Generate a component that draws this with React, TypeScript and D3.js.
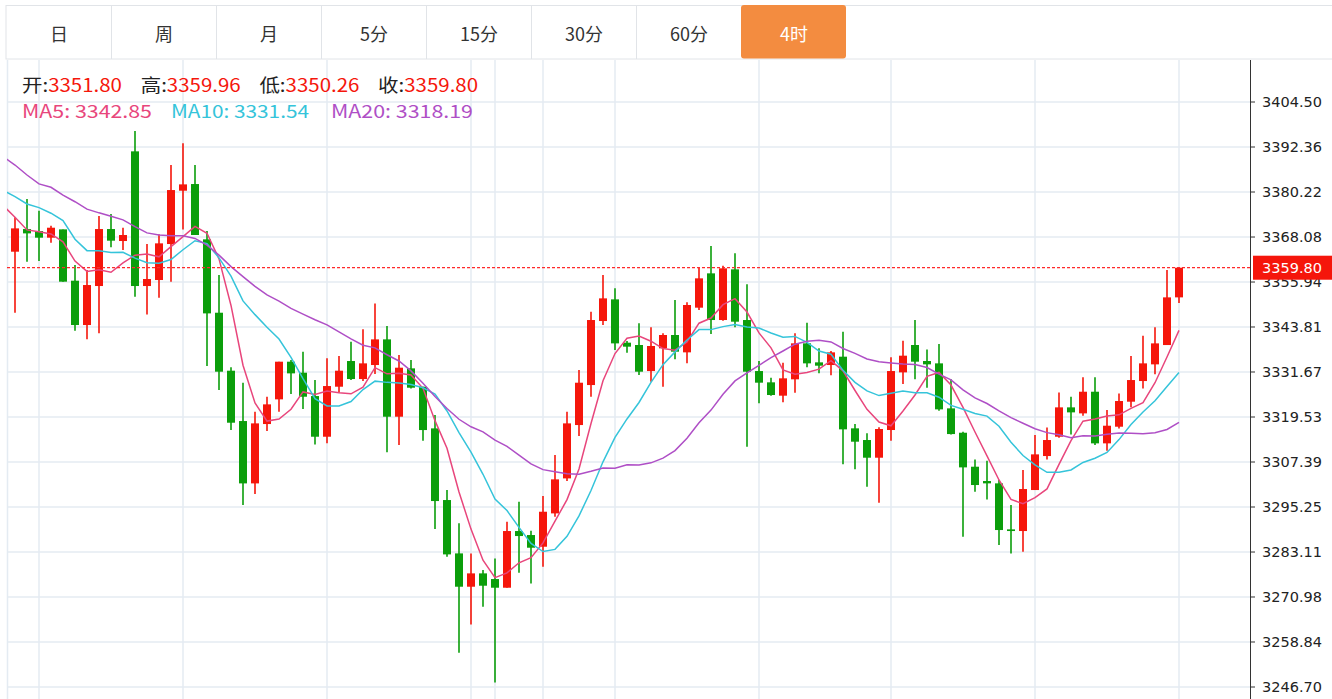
import React from 'react';
import * as d3 from 'd3';

const tabs = ['日', '周', '月', '5分', '15分', '30分', '60分', '4时'];
const activeTab = '4时';

const opens = [
  3364.12, 3370.23, 3369.69, 3367.90, 3370.14, 3356.30, 3344.34, 3354.86, 3370.23, 3367.00,
  3391.19, 3354.86, 3356.48, 3366.19, 3380.57, 3382.37, 3367.45, 3347.66, 3332.02, 3318.44,
  3301.62, 3317.63, 3324.29, 3334.45, 3331.48, 3325.18, 3314.21, 3327.70, 3334.63, 3329.77,
  3333.55, 3340.47, 3319.61, 3332.65, 3327.70, 3316.46, 3297.13, 3282.74, 3273.75, 3277.35,
  3275.82, 3273.48, 3288.77, 3287.69, 3284.54, 3293.53, 3302.97, 3317.36, 3328.15, 3345.42,
  3351.26, 3339.58, 3338.95, 3331.93, 3338.05, 3341.65, 3336.97, 3349.02, 3358.28, 3345.69,
  3359.36, 3345.69, 3331.93, 3328.88, 3325.28, 3329.69, 3339.40, 3334.27, 3333.55, 3335.80,
  3316.47, 3313.32, 3308.55, 3316.02, 3331.57, 3338.95, 3334.63, 3334.00, 3321.86, 3315.29,
  3306.12, 3302.26, 3301.63, 3289.22, 3288.77, 3299.83, 3309.00, 3314.21, 3322.13, 3320.51,
  3326.35, 3312.42, 3316.91, 3323.66, 3329.23, 3333.73, 3338.94, 3351.80,
];
const closes = [
  3370.41, 3369.06, 3367.90, 3370.59, 3356.03, 3344.34, 3355.13, 3370.23, 3367.09, 3368.62,
  3354.86, 3356.75, 3366.37, 3380.75, 3382.28, 3368.62, 3347.48, 3331.75, 3317.99, 3301.62,
  3317.81, 3322.94, 3334.45, 3331.30, 3325.00, 3314.21, 3327.88, 3332.02, 3329.77, 3334.00,
  3340.47, 3319.61, 3332.83, 3327.43, 3316.01, 3296.86, 3282.47, 3273.75, 3277.35, 3274.02,
  3273.48, 3288.77, 3287.42, 3284.27, 3293.98, 3302.71, 3317.81, 3328.78, 3345.69, 3351.53,
  3339.39, 3338.50, 3331.75, 3338.68, 3341.65, 3337.15, 3349.74, 3356.93, 3345.69, 3359.63,
  3345.24, 3331.75, 3328.79, 3325.46, 3329.96, 3339.40, 3334.00, 3333.37, 3336.97, 3316.20,
  3312.87, 3308.55, 3316.29, 3331.93, 3336.07, 3334.45, 3333.73, 3321.59, 3314.93, 3305.94,
  3301.18, 3301.63, 3289.04, 3288.77, 3300.10, 3309.45, 3313.32, 3322.13, 3320.78, 3326.35,
  3312.42, 3317.18, 3323.84, 3329.50, 3334.00, 3339.39, 3351.80, 3359.80,
];
const highs = [
  3373.38, 3378.33, 3375.18, 3371.13, 3370.14, 3360.52, 3359.17, 3373.74, 3374.28, 3370.59,
  3396.67, 3366.19, 3368.80, 3387.50, 3393.34, 3387.50, 3369.69, 3357.82, 3332.92, 3328.78,
  3320.96, 3325.00, 3334.45, 3334.90, 3337.14, 3329.50, 3335.35, 3335.98, 3339.84, 3343.17,
  3350.18, 3344.07, 3336.25, 3334.90, 3327.70, 3320.06, 3299.83, 3290.84, 3282.74, 3278.25,
  3281.39, 3291.29, 3296.68, 3288.86, 3298.21, 3309.27, 3320.96, 3332.20, 3347.93, 3357.83,
  3354.23, 3340.03, 3344.79, 3343.71, 3342.09, 3351.09, 3350.46, 3359.90, 3365.65, 3360.35,
  3363.68, 3355.31, 3334.63, 3330.14, 3334.18, 3342.09, 3344.97, 3338.05, 3337.33, 3342.54,
  3317.64, 3315.12, 3316.74, 3335.62, 3340.12, 3345.69, 3337.77, 3339.21, 3329.68, 3315.56,
  3308.10, 3307.74, 3302.53, 3295.78, 3305.22, 3314.66, 3316.73, 3326.17, 3325.01, 3330.22,
  3330.22, 3321.41, 3325.90, 3335.98, 3341.46, 3343.71, 3359.17, 3359.96,
];
const lows = [
  3347.66, 3361.42, 3361.60, 3366.55, 3356.03, 3342.81, 3340.47, 3342.09, 3365.29, 3364.57,
  3351.98, 3347.21, 3351.71, 3356.03, 3370.14, 3368.62, 3333.28, 3326.80, 3316.01, 3295.78,
  3298.75, 3315.74, 3320.96, 3325.72, 3321.68, 3312.14, 3312.42, 3326.08, 3329.50, 3329.23,
  3331.12, 3309.99, 3311.97, 3327.25, 3313.14, 3289.31, 3281.84, 3255.95, 3263.59, 3268.36,
  3247.94, 3273.48, 3277.53, 3274.65, 3279.15, 3292.63, 3302.26, 3314.39, 3325.01, 3344.34,
  3337.59, 3336.88, 3330.85, 3329.06, 3327.71, 3335.08, 3334.00, 3348.39, 3341.91, 3345.51,
  3343.71, 3311.52, 3323.21, 3325.28, 3323.48, 3326.09, 3332.92, 3331.30, 3330.76, 3306.76,
  3305.41, 3300.73, 3296.42, 3313.14, 3328.43, 3329.69, 3327.43, 3321.23, 3314.84, 3287.24,
  3299.38, 3297.31, 3284.99, 3282.74, 3283.19, 3299.83, 3308.10, 3313.95, 3314.84, 3319.88,
  3311.97, 3310.44, 3316.46, 3322.13, 3327.25, 3331.03, 3338.94, 3350.26,
];

// moving average values before enough bars are on screen (index -1 onward)
const ma5Head = [3376.6, 3373.4, 3370.0, 3369.5, 3368.9];
const ma10Head = [3380.7, 3379.0, 3377.0, 3376.0, 3374.5, 3372.5, 3367.5, 3364.4, 3364.4, 3363.9];
const ma20Head = [
  3389.8, 3387.5, 3384.8, 3382.4, 3381.5, 3379.4, 3377.6, 3375.6, 3374.6, 3373.7,
  3372.7, 3370.9, 3369.2, 3368.6, 3368.4, 3368.4, 3367.7, 3365.9, 3363.2, 3360.1,
];

const yTicks = [
  3404.50, 3392.36, 3380.22, 3368.08, 3355.94, 3343.81, 3331.67,
  3319.53, 3307.39, 3295.25, 3283.11, 3270.98, 3258.84, 3246.70,
];
const splitIdx = [2, 14, 26, 38, 40, 44, 50, 62, 73, 85, 97];

const header = [
  { label: '开', value: '3351.80' },
  { label: '高', value: '3359.96' },
  { label: '低', value: '3350.26' },
  { label: '收', value: '3359.80' },
];
const maInfo = [
  { name: 'MA5', value: '3342.85', color: '#E8467C', period: 5, head: ma5Head },
  { name: 'MA10', value: '3331.54', color: '#35C4DA', period: 10, head: ma10Head },
  { name: 'MA20', value: '3318.19', color: '#AF4FC6', period: 20, head: ma20Head },
];
const lastPrice = 3359.80;

const W = 1332;
const H = 699;
const UP = '#F5160B';
const DOWN = '#0B9E0B';
const GRID = '#E4EBF2';
const CJK = '"Noto Sans CJK SC", "Noto Sans", sans-serif';

function App() {
  const left = 7;
  const right = 1250;
  const top = 60;

  const x = d3.scaleLinear().domain([0, 97]).range([15, 1179]);
  const y = d3.scaleLinear().domain([3246.70, 3404.50]).range([687, 102]);
  const bodyW = 8;

  const maSeries = maInfo.map(m => {
    const pts: [number, number][] = m.head.map((v, k) => [k - 1, v]);
    for (let i = m.period - 1; i < closes.length; i++) {
      pts.push([i, d3.mean(closes.slice(i - m.period + 1, i + 1)) as number]);
    }
    return { ...m, pts };
  });
  const line = d3.line<[number, number]>().x(d => x(d[0])).y(d => y(d[1]));

  const tabW = 105;
  const tabX0 = 6;

  return (
    <svg width={W} height={H} style={{ position: 'absolute', left: 0, top: 0 }}>
      <defs>
        <clipPath id="plot">
          <rect x={left} y={top} width={right - left} height={H - top} />
        </clipPath>
      </defs>
      <rect width={W} height={H} fill="#fff" />

      {/* grid */}
      <line x1={left + 0.5} x2={left + 0.5} y1={top} y2={H} stroke={GRID} strokeWidth={1.5} />
      {yTicks.map(t => (
        <line key={t} x1={left} x2={right} y1={y(t)} y2={y(t)} stroke={GRID} strokeWidth={1.5} />
      ))}
      {splitIdx.map(i => (
        <line key={i} x1={x(i)} x2={x(i)} y1={top} y2={H} stroke={GRID} strokeWidth={1.5} />
      ))}

      {/* tabs */}
      <rect x={tabX0} y={5.5} width={W - tabX0 + 2} height={53.5} fill="#fff" stroke="#E1E4E8" />
      {tabs.map((t, k) => {
        const tx = tabX0 + k * tabW;
        const active = t === activeTab;
        return (
          <g key={t}>
            {k > 0 && !active && (
              <line x1={tx + 0.5} x2={tx + 0.5} y1={6} y2={59} stroke="#E1E4E8" />
            )}
            {active && (
              <rect x={tx} y={5} width={tabW} height={53.5} rx={3} fill="#F38C40" />
            )}
            <text
              x={tx + tabW / 2 + 0.5}
              y={33}
              textAnchor="middle"
              dominantBaseline="central"
              fontFamily={CJK}
              fontSize={18}
              fill={active ? '#fff' : '#333'}
            >
              {t}
            </text>
          </g>
        );
      })}

      <g clipPath="url(#plot)">
        {/* candles */}
        {closes.map((c, i) => {
          const o = opens[i];
          const color = c >= o ? UP : DOWN;
          const cx = x(i);
          const yt = y(Math.max(o, c));
          const yb = y(Math.min(o, c));
          return (
            <g key={i}>
              <line x1={cx} x2={cx} y1={y(highs[i])} y2={y(lows[i])} stroke={color} strokeWidth={1.6} />
              <rect x={cx - bodyW / 2} y={yt} width={bodyW} height={Math.max(1.5, yb - yt)} fill={color} />
            </g>
          );
        })}

        {/* moving averages */}
        {maSeries.map(m => (
          <path key={m.name} d={line(m.pts) || ''} fill="none" stroke={m.color} strokeWidth={1.5} />
        ))}

        <line
          x1={left}
          x2={right}
          y1={y(lastPrice)}
          y2={y(lastPrice)}
          stroke="#FF2A2A"
          strokeWidth={1.3}
          strokeDasharray="3,2"
        />
      </g>

      {/* header */}
      {header.map((h, k) => (
        <text
          key={h.label}
          x={22 + k * 118.7}
          y={84}
          dominantBaseline="central"
          fontFamily={CJK}
          fontSize={18}
          textLength={100}
          lengthAdjust="spacingAndGlyphs"
        >
          <tspan fill="#222">{h.label}:</tspan>
          <tspan fill={UP}>{h.value}</tspan>
        </text>
      ))}
      {maSeries.map((m, k) => (
        <text
          key={m.name}
          x={[22, 171, 331][k]}
          y={110}
          dominantBaseline="central"
          fontFamily={CJK}
          fontSize={18}
          textLength={[130, 138, 142][k]}
          lengthAdjust="spacingAndGlyphs"
          fill={m.color}
        >
          {m.name}: {m.value}
        </text>
      ))}

      {/* right axis */}
      <line x1={right + 0.5} x2={right + 0.5} y1={top} y2={H} stroke="#333" />
      {yTicks.map(t => (
        <g key={t}>
          <line x1={right} x2={right + 5} y1={y(t)} y2={y(t)} stroke="#333" />
          <text
            x={1262}
            y={y(t)}
            dominantBaseline="central"
            fontFamily="Tahoma, 'DejaVu Sans', sans-serif"
            fontSize={14.5}
            fill="#222"
          >
            {t.toFixed(2)}
          </text>
        </g>
      ))}
      <rect x={right + 3} y={y(lastPrice) - 12} width={W - right - 3} height={24} fill={UP} />
      <text
        x={1262}
        y={y(lastPrice)}
        dominantBaseline="central"
        fontFamily="Tahoma, 'DejaVu Sans', sans-serif"
        fontSize={14.5}
        fill="#fff"
      >
        {lastPrice.toFixed(2)}
      </text>
    </svg>
  );
}

export default App;
